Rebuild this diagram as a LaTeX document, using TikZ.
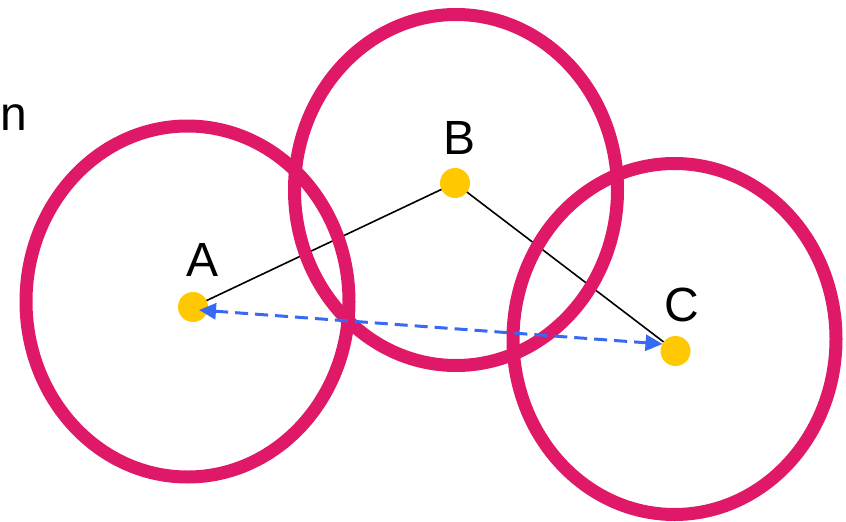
\documentclass[tikz,border=0pt]{standalone}
\usepackage{fontspec}
\setmainfont{Liberation Sans}
\usetikzlibrary{arrows.meta,shapes.geometric}
\definecolor{ringpink}{RGB}{224,24,104}
\definecolor{dotgold}{RGB}{255,200,0}
\definecolor{arrowblue}{RGB}{55,105,245}
\pgfdeclarelayer{bg}
\pgfsetlayers{bg,main}
\begin{document}
\begin{tikzpicture}[x=1pt,y=-1pt,
  ring/.style={draw=ringpink, line width=13pt, ellipse, minimum width=323pt, minimum height=351pt, inner sep=0pt},
  dot/.style={circle, fill=dotgold, minimum size=30pt, inner sep=0pt},
  lbl/.style={font=\fontsize{48}{56}\selectfont, inner sep=0pt},
  link/.style={black, line width=1.6pt},
  measure/.style={arrowblue, line width=3pt, dash pattern=on 13pt off 7pt, {Triangle[length=17pt,width=16pt]}-{Triangle[length=17pt,width=16pt]}}]
\useasboundingbox (0,0) rectangle (846,522);
\node[ring] (r1) at (187.5,301.5) {};
\node[ring] (r2) at (456,190) {};
\node[ring] (r3) at (674.5,339) {};
\node[dot] (dA) at (193,307) {};
\node[dot] (dB) at (455,183) {};
\node[dot] (dC) at (675.5,351) {};
\node[lbl] (lA) at (203,260) {A};
\node[lbl] (lB) at (460,137.5) {B};
\node[lbl] (lC) at (682,305) {C};
\node[lbl] (ln) at (14,117.5) {n};
\begin{pgfonlayer}{bg}
\draw[link] (dA.center) -- (dB.center) -- (dC.center);
\end{pgfonlayer}
\draw[measure] ([shift={(6,3)}]dA.center) -- ([shift={(-13,-7)}]dC.center);
\end{tikzpicture}
\end{document}
